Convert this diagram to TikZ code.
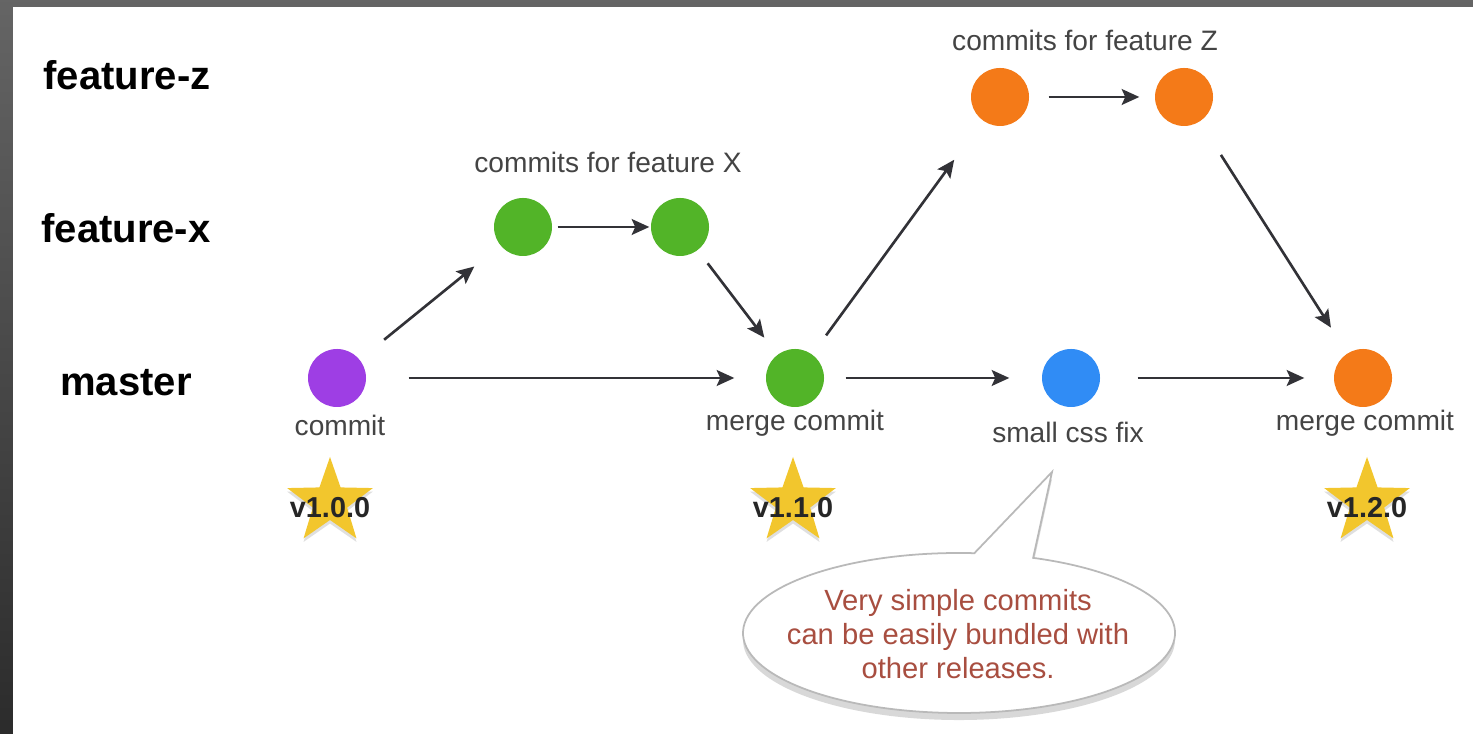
\documentclass[tikz,border=0pt]{standalone}
\usepackage{fontspec}
\setmainfont{Liberation Sans}
\usetikzlibrary{arrows.meta, shapes.geometric, shapes.callouts, shadows}

\definecolor{framegray}{RGB}{62,62,62}
\definecolor{labelgray}{RGB}{68,68,68}
\definecolor{linkgray}{RGB}{50,50,55}
\definecolor{commitpurple}{RGB}{158,62,228}
\definecolor{featuregreen}{RGB}{82,180,40}
\definecolor{featureorange}{RGB}{244,122,24}
\definecolor{fixblue}{RGB}{48,140,245}
\definecolor{stargold}{RGB}{242,198,45}
\definecolor{noteRed}{RGB}{168,78,64}
\definecolor{bubblegray}{RGB}{185,185,185}

\begin{document}
\begin{tikzpicture}[
  branch/.style={font=\fontsize{11.4}{13}\selectfont\bfseries, text=black},
  dot/.style={circle, minimum size=0.58cm, inner sep=0},
  caption/.style={font=\fontsize{8}{9.6}\selectfont, text=labelgray},
  link/.style={draw=linkgray, line width=0.75pt, -{Stealth[length=5pt, width=4.5pt, inset=1pt]}},
  tag/.style={star, star points=5, star point ratio=2.5, minimum size=0.9cm, inner sep=0,
    fill=stargold, drop shadow={shadow xshift=0pt, shadow yshift=-1pt, opacity=0.25}},
  tagtext/.style={font=\fontsize{8.2}{10}\selectfont\bfseries, text=black!85},
  bubble/.style={ellipse callout, draw=bubblegray, line width=0.5pt, fill=white, minimum width=4.32cm,
    minimum height=1.6cm, inner sep=0, callout pointer arc=16,
    drop shadow={shadow xshift=0pt, shadow yshift=-2pt, opacity=0.3}},
  bubbletext/.style={align=center, font=\fontsize{8.3}{9.7}\selectfont, text=noteRed}
]
  \useasboundingbox (0, 0) rectangle (14.73, 7.34);
  % Frame
  \shade[top color=framegray!80!white, bottom color=framegray!70!black] (0, 0) rectangle (14.73, 7.34);
  \fill[white] (0.13, 0) rectangle (14.73, 7.27);

  % Branch labels
  \node[branch] (lbl-z) at (1.27, 6.59) {feature-z};
  \node[branch] (lbl-x) at (1.26, 5.06) {feature-x};
  \node[branch] (lbl-master) at (1.26, 3.51) {master};

  % Commits
  \node[dot, fill=commitpurple] (commit) at (3.37, 3.56) {};
  \node[dot, fill=featuregreen] (x1) at (5.23, 5.07) {};
  \node[dot, fill=featuregreen] (x2) at (6.80, 5.07) {};
  \node[dot, fill=featuregreen] (merge1) at (7.95, 3.56) {};
  \node[dot, fill=featureorange] (z1) at (10.00, 6.37) {};
  \node[dot, fill=featureorange] (z2) at (11.84, 6.37) {};
  \node[dot, fill=fixblue] (css) at (10.71, 3.56) {};
  \node[dot, fill=featureorange] (merge2) at (13.63, 3.56) {};

  % Captions
  \node[caption] (cap-commit) at (3.40, 3.09) {commit};
  \node[caption] (cap-merge1) at (7.95, 3.11) {merge commit};
  \node[caption] (cap-css) at (10.68, 3.02) {small css fix};
  \node[caption] (cap-merge2) at (13.65, 3.11) {merge commit};
  \node[caption] (cap-x) at (6.08, 5.72) {commits for feature X};
  \node[caption] (cap-z) at (10.85, 6.94) {commits for feature Z};

  % Release tags
  \node[tag] (v100) at (3.30, 2.32) {};
  \node[tag] (v110) at (7.93, 2.32) {};
  \node[tag] (v120) at (13.67, 2.32) {};
  \node[tagtext] (v100-text) at (3.30, 2.26) {v1.0.0};
  \node[tagtext] (v110-text) at (7.93, 2.26) {v1.1.0};
  \node[tagtext] (v120-text) at (13.67, 2.26) {v1.2.0};

  % History
  \draw[link, shorten <=0.31cm, shorten >=0.33cm] (commit) -- (x1);
  \draw[link, shorten <=0.05cm, shorten >=0.01cm] (x1) -- (x2);
  \draw[link, shorten <=0.16cm, shorten >=0.21cm] (x2) -- (merge1);
  \draw[link, shorten <=0.42cm, shorten >=0.31cm] (commit) -- (merge1);
  \draw[link, shorten <=0.23cm, shorten >=0.48cm] (merge1) -- (z1);
  \draw[link, shorten <=0.19cm, shorten >=0.15cm] (z1) -- (z2);
  \draw[link, shorten <=0.39cm, shorten >=0.30cm] (z2) -- (merge2);
  \draw[link, shorten <=0.21cm, shorten >=0.32cm] (merge1) -- (css);
  \draw[link, shorten <=0.37cm, shorten >=0.29cm] (css) -- (merge2);

  % Note
  \node[bubble, callout absolute pointer={(10.52, 2.62)}] (note) at (9.59, 1.01) {};
  \node[bubbletext] (note-text) at (9.58, 1.00) {Very simple commits\\can be easily bundled with\\other releases.};
\end{tikzpicture}
\end{document}
